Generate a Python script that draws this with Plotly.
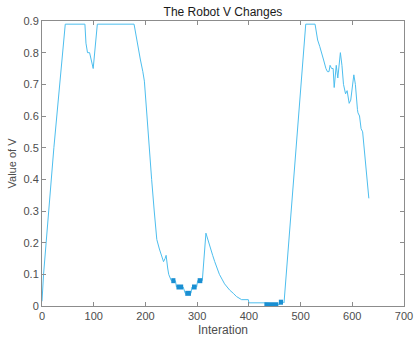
import plotly.graph_objects as go

# Main V trace (iteration, value)
iteration = [0, 3, 23, 45, 83, 85, 88, 92, 99, 107, 178, 183, 187, 190, 195, 198,
             203, 207, 212, 217, 222, 227, 235, 238, 240, 243, 245, 250, 258, 260,
             273, 277, 288, 290, 299, 301, 310, 317, 322, 326, 330, 334, 338, 343,
             348, 353, 358, 363, 370, 376, 386, 399, 400, 431, 457, 467, 468, 510,
             528, 533, 537, 541, 544, 549, 552, 555, 557, 560, 563, 565, 569, 572,
             577, 580, 583, 587, 590, 594, 597, 603, 606, 610, 611, 614, 617, 620, 632]
value_v = [0.015, 0.1, 0.5, 0.89, 0.89, 0.83, 0.80, 0.80, 0.75, 0.89, 0.89, 0.84, 0.80, 0.78, 0.74, 0.71,
           0.60, 0.50, 0.40, 0.30, 0.21, 0.18, 0.14, 0.15, 0.16, 0.12, 0.10, 0.08, 0.08, 0.06,
           0.06, 0.04, 0.04, 0.06, 0.06, 0.08, 0.08, 0.23, 0.20, 0.18, 0.16, 0.14, 0.12, 0.10,
           0.085, 0.07, 0.06, 0.05, 0.04, 0.03, 0.02, 0.02, 0.01, 0.01, 0.005, 0.012, 0.01, 0.89,
           0.89, 0.84, 0.82, 0.80, 0.78, 0.75, 0.74, 0.74, 0.76, 0.75, 0.75, 0.69, 0.76, 0.72,
           0.80, 0.76, 0.70, 0.67, 0.68, 0.64, 0.65, 0.73, 0.70, 0.62, 0.61, 0.60, 0.56, 0.55, 0.34]

# Dense oscillation segments (drawn as thick dark blocks)
block_start = [250, 260, 277, 290, 301, 430, 458]
block_end = [258, 273, 288, 299, 310, 457, 466]
block_value = [0.08, 0.06, 0.04, 0.06, 0.08, 0.004, 0.012]

bx, by = [], []
for s, e, v in zip(block_start, block_end, block_value):
    bx += [s, e, None]
    by += [v, v, None]

fig = go.Figure()
fig.add_trace(go.Scatter(x=iteration, y=value_v, mode="lines",
                         line=dict(color="#4DBEEE", width=1), showlegend=False))
fig.add_trace(go.Scatter(x=bx, y=by, mode="lines",
                         line=dict(color="#1A8FD2", width=5), showlegend=False))

font_fam = "Liberation Sans, Arial, sans-serif"
axis_common = dict(showgrid=False, zeroline=False, showline=True, mirror="ticks",
                   linecolor="#8c8c8c", linewidth=1, ticks="inside", ticklen=4,
                   tickcolor="#8c8c8c", automargin=False,
                   tickfont=dict(family=font_fam, size=11, color="#4d4d4d"))

fig.update_layout(
    width=416, height=342,
    margin=dict(l=42, r=12, t=21, b=36),
    paper_bgcolor="white", plot_bgcolor="white",
    title=dict(text="The Robot V Changes", x=0.536, xanchor="center", y=0.965, yanchor="middle",
               font=dict(family=font_fam, size=12, color="#1a1a1a")),
    xaxis=dict(range=[0, 700], tickvals=[0, 100, 200, 300, 400, 500, 600, 700],
               title=dict(text="Interation", standoff=4, font=dict(family=font_fam, size=12, color="#4d4d4d")),
               **axis_common),
    yaxis=dict(range=[0, 0.9], tickvals=[0, 0.1, 0.2, 0.3, 0.4, 0.5, 0.6, 0.7, 0.8, 0.9],
               ticktext=["0", "0.1", "0.2", "0.3", "0.4", "0.5", "0.6", "0.7", "0.8", "0.9"],
               title=dict(text="Value of V", standoff=4, font=dict(family=font_fam, size=11, color="#4d4d4d")),
               **axis_common),
)

fig.write_html("out.html", config={"displayModeBar": False},
               post_script="document.body.style.margin='0';")
